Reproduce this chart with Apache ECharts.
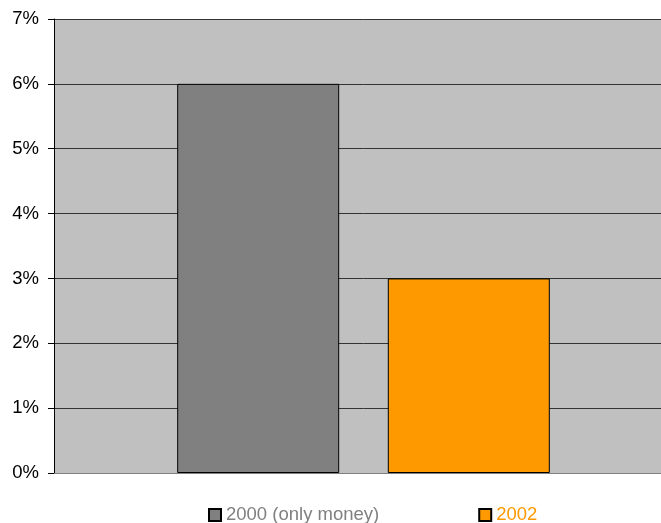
<!DOCTYPE html>
<html>
<head>
<meta charset="utf-8">
<script src="https://cdn.jsdelivr.net/npm/echarts@6/dist/echarts.min.js"></script>
<style>html,body{margin:0;padding:0;background:#fff;overflow:hidden}#c{width:673px;height:523px}</style>
</head>
<body>
<div id="c"></div>
<script>
const categories = [''];
const seriesNames = ['2000 (only money)', '2002'];
const values2000 = [0.06];
const values2002 = [0.03];
const colors = ['#808080', '#FF9900'];

const chart = echarts.init(document.getElementById('c'));
chart.setOption({
  animation: false,
  grid: {left: 54, top: 19, bottom: 50, right: 0, show: true, backgroundColor: '#C0C0C0', borderWidth: 0},
  legend: {
    left: 208, top: 505.5, padding: 0, itemWidth: 12, itemHeight: 12, itemGap: 99, icon: 'rect',
    data: [
      {name: seriesNames[0], textStyle: {color: colors[0]}},
      {name: seriesNames[1], textStyle: {color: colors[1]}}
    ],
    textStyle: {fontSize: 18.5, fontFamily: 'Liberation Sans, Arial, sans-serif'}
  },
  xAxis: {
    type: 'category', data: categories,
    axisLine: {lineStyle: {color: '#808080'}}, axisTick: {show: false}, axisLabel: {show: false}
  },
  yAxis: {
    type: 'value', min: 0, max: 0.07, interval: 0.01,
    axisLine: {show: true, lineStyle: {color: '#000'}},
    axisTick: {show: true, length: 6, lineStyle: {color: '#000'}},
    axisLabel: {margin: 15, color: '#000', fontSize: 18.5, fontFamily: 'Liberation Sans, Arial, sans-serif',
      formatter: v => Math.round(v * 100) + '%'},
    splitLine: {lineStyle: {color: '#333', width: 1}}
  },
  series: [
    {name: seriesNames[0], type: 'bar', data: values2000, barWidth: 162, barGap: '30%',
      itemStyle: {color: colors[0], borderColor: '#000', borderWidth: 1}},
    {name: seriesNames[1], type: 'bar', data: values2002, barWidth: 162,
      itemStyle: {color: colors[1], borderColor: '#000', borderWidth: 1}}
  ]
});
</script>
</body>
</html>
